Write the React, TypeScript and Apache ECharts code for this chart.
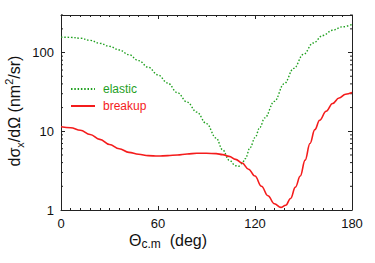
import React, { useEffect, useRef } from "react";
import * as echarts from "echarts";

const elasticDeg = [0, 6, 12, 18, 24, 30, 36, 42, 48, 54, 60, 66, 72, 78, 84, 90, 96, 100, 104, 108, 110, 112, 114, 117, 120, 123, 126, 132, 138, 144, 150, 156, 162, 168, 174, 180];
const elasticVal = [157, 156, 152, 143, 131, 120, 108, 94, 79, 65, 52, 41, 31, 23.5, 17.5, 12.5, 8.2, 5.8, 4.3, 3.65, 3.6, 3.9, 4.5, 6.2, 8.3, 11.2, 14.8, 24, 40, 63, 95, 132, 165, 192, 212, 228];

const breakupDeg = [0, 6, 12, 18, 24, 30, 36, 42, 48, 54, 60, 66, 72, 78, 84, 90, 96, 100, 104, 108, 112, 116, 120, 124, 128, 132, 136, 139, 142, 145, 148, 151, 154, 157, 160, 164, 168, 172, 176, 180];
const breakupVal = [11.4, 11.1, 10.3, 9.1, 7.9, 6.8, 6.0, 5.4, 5.1, 4.9, 4.85, 4.9, 5.0, 5.15, 5.25, 5.25, 5.2, 5.05, 4.8, 4.4, 3.95, 3.3, 2.7, 2.0, 1.52, 1.2, 1.08, 1.15, 1.4, 1.95, 2.7, 4.3, 7.0, 10.5, 13.8, 18, 22.5, 26.5, 29.5, 31];

const yMinorTicks = [2, 3, 4, 5, 6, 7, 8, 9, 20, 30, 40, 50, 60, 70, 80, 90, 200, 300];

const GREEN = "#1fa01f";
const RED = "#f41c1c";
const AXIS = "#222";
const FONT = "Liberation Sans";

export default function App() {
  const ref = useRef<HTMLDivElement>(null);
  useEffect(() => {
    const chart = echarts.init(ref.current!, null, { renderer: "svg" });
    const xBase = {
      type: "value",
      min: 0,
      max: 180,
      interval: 60,
      axisLine: { show: true, onZero: false, lineStyle: { color: AXIS, width: 1 } },
      axisTick: { show: true, inside: true, length: 4, lineStyle: { color: AXIS } },
      minorTick: { show: true, splitNumber: 10, length: 2, lineStyle: { color: AXIS } },
      splitLine: { show: false },
    };
    const yBase = {
      type: "log",
      logBase: 10,
      min: 1,
      max: 300,
      axisLine: { show: true, onZero: false, lineStyle: { color: AXIS, width: 1 } },
      axisTick: { show: true, inside: true, length: 4, lineStyle: { color: AXIS } },
      splitLine: { show: false },
    };
    chart.setOption({
      animation: false,
      grid: { left: 61, right: 23, top: 15, bottom: 53, containLabel: false },
      legend: {
        orient: "vertical",
        left: 70,
        top: 83,
        padding: 0,
        itemWidth: 24,
        itemHeight: 14,
        itemGap: 5,
        data: ["elastic", "breakup"],
        itemStyle: { opacity: 0, borderWidth: 0 },
        textStyle: {
          fontSize: 12,
          fontFamily: FONT,
          padding: [0, 0, 0, 3],
          rich: {
            elastic: { color: GREEN, fontSize: 12, fontFamily: FONT },
            breakup: { color: RED, fontSize: 12, fontFamily: FONT },
          },
        },
        formatter: (name: string) => `{${name}|${name}}`,
        selectedMode: false,
      },
      xAxis: [
        {
          ...xBase,
          position: "bottom",
          axisLabel: { fontSize: 13, fontFamily: FONT, color: "#111", margin: 7 },
        },
        { ...xBase, position: "top", axisLabel: { show: false } },
      ],
      yAxis: [
        {
          ...yBase,
          position: "left",
          axisLabel: { fontSize: 13, fontFamily: FONT, color: "#111", margin: 7, showMaxLabel: false },
        },
        { ...yBase, position: "right", axisLabel: { show: false } },
      ],
      series: [
        {
          name: "elastic",
          type: "line",
          data: elasticDeg.map((d, i) => [d, elasticVal[i]]),
          showSymbol: false,
          symbol: "none",
          smooth: 0.4,
          smoothMonotone: "x",
          lineStyle: { color: GREEN, width: 1.4, type: [1.5, 1.8] },
          itemStyle: { color: GREEN },
        },
        {
          name: "breakup",
          type: "line",
          data: breakupDeg.map((d, i) => [d, breakupVal[i]]),
          showSymbol: false,
          symbol: "none",
          smooth: 0.4,
          smoothMonotone: "x",
          lineStyle: { color: RED, width: 1.6 },
          itemStyle: { color: RED },
        },
        {
          type: "custom",
          silent: true,
          clip: false,
          data: yMinorTicks.map((v) => [0, v]),
          encode: { x: 0, y: 1 },
          renderItem: (params: any, api: any) => {
            const v = api.value(1);
            const l = api.coord([0, v]);
            const r = api.coord([180, v]);
            return {
              type: "group",
              children: [
                { type: "line", shape: { x1: l[0], y1: l[1], x2: l[0] + 2, y2: l[1] }, style: { stroke: AXIS, lineWidth: 1 } },
                { type: "line", shape: { x1: r[0] - 2, y1: r[1], x2: r[0], y2: r[1] }, style: { stroke: AXIS, lineWidth: 1 } },
              ],
            };
          },
        },
      ],
      graphic: [
        {
          type: "text",
          left: 129,
          top: 232,
          style: {
            text: "{m|Θ}{s|c.m}{m|  (deg)}",
            fill: "#111",
            rich: {
              m: { fontSize: 16, fontFamily: FONT, fill: "#111", lineHeight: 20 },
              s: { fontSize: 12, fontFamily: FONT, fill: "#111", lineHeight: 12, verticalAlign: "bottom" },
            },
          },
        },
        {
          type: "text",
          x: 14,
          y: 111,
          rotation: Math.PI / 2,
          style: {
            text: "{m|dσ}{s|x}{m|/dΩ (nm}{p|2}{m|/sr)}",
            align: "center",
            verticalAlign: "middle",
            fill: "#111",
            rich: {
              m: { fontSize: 16, fontFamily: FONT, fill: "#111", lineHeight: 22 },
              s: { fontSize: 11, fontFamily: FONT, fill: "#111", lineHeight: 12, verticalAlign: "bottom" },
              p: { fontSize: 11, fontFamily: FONT, fill: "#111", lineHeight: 12, verticalAlign: "top" },
            },
          },
        },
      ],
    });
    return () => chart.dispose();
  }, []);
  return <div ref={ref} style={{ width: 375, height: 263, position: "absolute", left: 0, top: 0 }} />;
}
